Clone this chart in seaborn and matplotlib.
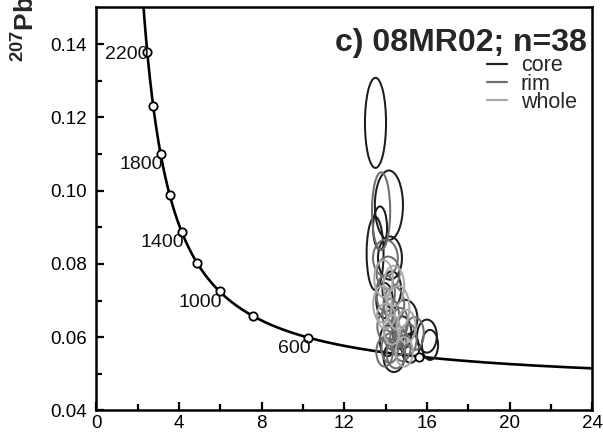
import numpy as np
import pandas as pd
import matplotlib
matplotlib.use("Agg")
import matplotlib.pyplot as plt
import seaborn as sns
from matplotlib.patches import Ellipse
from matplotlib.lines import Line2D

# ---- data -------------------------------------------------------------
# decay constants (1/yr) and U ratio for Tera-Wasserburg concordia
LAMBDA_238 = 1.55125e-10
LAMBDA_235 = 9.8485e-10
U_RATIO = 137.88

marker_ages = [400, 600, 800, 1000, 1200, 1400, 1600, 1800, 2000, 2200]
label_ages = [600, 1000, 1400, 1800, 2200]

# analyses: 238U/206Pb centre, 207Pb/206Pb centre, half-axes (x, y)
core_x = [13.51, 14.16, 13.73, 13.49, 14.21, 14.30, 14.94, 16.00, 16.15, 14.40, 14.80, 13.95, 15.20, 14.10]
core_y = [0.1185, 0.0960, 0.0898, 0.0829, 0.0816, 0.0730, 0.0652, 0.0603, 0.0579, 0.0545, 0.0612, 0.0700, 0.0570, 0.0590]
core_sx = [0.51, 0.68, 0.34, 0.41, 0.58, 0.45, 0.60, 0.48, 0.39, 0.50, 0.45, 0.40, 0.42, 0.38]
core_sy = [0.0123, 0.0095, 0.0059, 0.0100, 0.0059, 0.0050, 0.0050, 0.0045, 0.0041, 0.0040, 0.0045, 0.0048, 0.0040, 0.0042]

rim_x = [13.78, 13.99, 14.12, 14.00, 14.40, 14.05, 14.35, 14.60, 14.20, 14.80, 15.10, 13.95, 14.50, 15.40, 14.70, 14.25]
rim_y = [0.0944, 0.0816, 0.0775, 0.0720, 0.0690, 0.0630, 0.0605, 0.0590, 0.0570, 0.0575, 0.0595, 0.0560, 0.0555, 0.0610, 0.0640, 0.0660]
rim_sx = [0.44, 0.60, 0.56, 0.45, 0.50, 0.45, 0.42, 0.40, 0.40, 0.42, 0.40, 0.40, 0.45, 0.45, 0.38, 0.40]
rim_sy = [0.0106, 0.0050, 0.0045, 0.0050, 0.0048, 0.0042, 0.0040, 0.0040, 0.0040, 0.0040, 0.0042, 0.0040, 0.0040, 0.0045, 0.0040, 0.0045]

whole_x = [14.02, 14.60, 13.90, 15.00, 14.30, 14.90, 13.85, 14.40]
whole_y = [0.0658, 0.0680, 0.0760, 0.0630, 0.0620, 0.0560, 0.0690, 0.0740]
whole_sx = [0.44, 0.55, 0.45, 0.45, 0.40, 0.42, 0.45, 0.50]
whole_sy = [0.0034, 0.0060, 0.0050, 0.0045, 0.0040, 0.0040, 0.0050, 0.0055]

x_ticks = [0, 4, 8, 12, 16, 20, 24]
y_ticks = [0.04, 0.06, 0.08, 0.10, 0.12, 0.14]

title = "c) 08MR02; n=38"


def tw(age_ma):
    t = np.asarray(age_ma, dtype=float) * 1e6
    e8 = np.exp(LAMBDA_238 * t) - 1
    e5 = np.exp(LAMBDA_235 * t) - 1
    return 1.0 / e8, e5 / e8 / U_RATIO


# ---- style ------------------------------------------------------------
sns.set_style("ticks")
plt.rcParams["font.family"] = ["Liberation Sans", "DejaVu Sans"]
plt.rcParams["mathtext.fontset"] = "custom"
plt.rcParams["mathtext.rm"] = "Liberation Sans"
plt.rcParams["mathtext.bf"] = "Liberation Sans:bold"

fig = plt.figure(figsize=(6.03, 4.33), dpi=100)
ax = fig.add_axes([0.160, 0.052, 0.822, 0.9325])

# concordia curve
curve_ages = np.linspace(240, 2600, 600)
cx, cy = tw(curve_ages)
curve = pd.DataFrame({"x": cx, "y": cy})
sns.lineplot(data=curve, x="x", y="y", sort=False, color="black", lw=1.9, ax=ax, zorder=2)

# analyses ellipses
groups = [
    ("core", core_x, core_y, core_sx, core_sy, "#1c1c1c"),
    ("rim", rim_x, rim_y, rim_sx, rim_sy, "#6e6e6e"),
    ("whole", whole_x, whole_y, whole_sx, whole_sy, "#a9a9a9"),
]
for name, xs, ys, sxs, sys_, col in groups:
    for x, y, sx, sy in zip(xs, ys, sxs, sys_):
        ax.add_patch(Ellipse((x, y), 2 * sx, 2 * sy, fill=False, ec=col, lw=1.45, zorder=3))

# age markers
mx, my = tw(marker_ages)
markers = pd.DataFrame({"x": mx, "y": my})
sns.scatterplot(data=markers, x="x", y="y", ax=ax, s=36, marker="o",
                facecolor="white", edgecolor="black", linewidth=1.3, zorder=4)

lx, ly = tw(label_ages)
for age, x, y in zip(label_ages, lx, ly):
    dx, dy = (1, -2) if age == 2200 else (2, -8)
    ax.annotate(str(age), (x, y), xytext=(dx, dy), textcoords="offset points",
                ha="right", va="center", fontsize=14, color="#111111", zorder=5)

ax.set_xlim(0, 24)
ax.set_ylim(0.04, 0.1502)
ax.set_xticks(x_ticks)
ax.set_xticklabels([str(v) for v in x_ticks])
ax.set_yticks(y_ticks)
ax.set_yticklabels([f"{v:.2f}" for v in y_ticks])
ax.set_xticks(np.arange(2, 24, 4), minor=True)
ax.set_yticks([0.05, 0.07, 0.09, 0.11, 0.13], minor=True)
ax.tick_params(which="both", direction="in", width=1.6, labelsize=13.5, colors="black")
ax.tick_params(which="major", length=6, pad=3)
ax.tick_params(which="minor", length=4)
ax.tick_params(axis="y", which="major", pad=7)
for sp in ax.spines.values():
    sp.set_visible(True)
    sp.set_linewidth(1.8)
    sp.set_color("black")
ax.set_xlabel("")
ax.set_ylabel("")

ax.text(0.99, 0.890, title, transform=ax.transAxes, ha="right", va="baseline",
        fontsize=23, fontweight="bold")

handles = [Line2D([], [], color=c, lw=1.6) for _, _, _, _, _, c in groups]
leg = ax.legend(handles, [g[0] for g in groups], loc="upper right",
                bbox_to_anchor=(0.969, 0.880), frameon=False, fontsize=15.5,
                handlelength=0.95, handletextpad=0.64, labelspacing=-0.12,
                borderpad=0.0, borderaxespad=0.0)

fig.text(0.043, 0.857, r"$\mathbf{^{207}Pb/^{206}Pb}$", rotation=90,
         ha="center", va="bottom", fontsize=19)

fig.savefig("out.png", dpi=100)
